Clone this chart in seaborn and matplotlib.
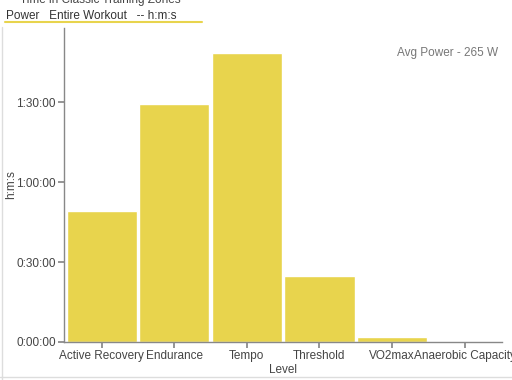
import matplotlib
matplotlib.use("Agg")
import matplotlib.pyplot as plt
import pandas as pd
import seaborn as sns
from matplotlib.ticker import FuncFormatter

levels = ["Active Recovery", "Endurance", "Tempo", "Threshold", "VO2max", "Anaerobic Capacity"]
seconds = [2950, 5355, 6500, 1485, 110, 5]
y_ticks = [0, 1800, 3600, 5400]

sns.set_theme(style="white")
plt.rcParams["font.family"] = ["Liberation Sans", "DejaVu Sans"]

df = pd.DataFrame({"Level": levels, "seconds": seconds})


def hms(v, _pos=None):
    v = int(round(v))
    return f"{v // 3600}:{(v % 3600) // 60:02d}:{v % 60:02d}"


fig = plt.figure(figsize=(5.12, 3.8), dpi=100)
ax = fig.add_axes([0.125, 0.1, 0.856, 0.826])

sns.barplot(data=df, x="Level", y="seconds", ax=ax, color="#E8D44D",
            saturation=1, width=0.97, edgecolor="white", linewidth=1)

ax.set_xlim(-0.52, 5.52)
ax.set_ylim(0, 7065)
ax.set_yticks(y_ticks)
ax.yaxis.set_major_formatter(FuncFormatter(hms))
ax.set_ylabel("h:m:s", fontsize=8.5, color="#444444", va="center", ha="center")
ax.yaxis.set_label_coords(-0.12, 0.5)
ax.set_xlabel("Level", fontsize=8.5, color="#444444", labelpad=1)
ax.tick_params(axis="both", labelsize=8.5, labelcolor="#444444", length=4,
               color="#888888", bottom=True, left=True, pad=2)
for side in ["top", "right"]:
    ax.spines[side].set_visible(False)
for side in ["left", "bottom"]:
    ax.spines[side].set_color("#888888")
    ax.spines[side].set_linewidth(1)

ax.text(0.99, 0.94, "Avg Power - 265 W", transform=ax.transAxes, ha="right",
        va="top", fontsize=8.5, color="#777777")

fig.text(0.04, 1.0, "Time in Classic Training Zones", fontsize=8.5,
         color="#444444", va="center")
fig.text(0.012, 0.958, "Power   Entire Workout   -- h:m:s", fontsize=8.5,
         color="#333333", va="center")
fig.add_artist(plt.Line2D([0.01, 0.395], [0.943, 0.943], color="#E8D44D",
                          linewidth=1.5, transform=fig.transFigure))
fig.add_artist(plt.Line2D([0.004, 0.004], [0.0, 0.93], color="#DDDDDD",
                          linewidth=1, transform=fig.transFigure))
fig.add_artist(plt.Line2D([0.0, 1.0], [0.008, 0.008], color="#DDDDDD",
                          linewidth=1, transform=fig.transFigure))

fig.savefig("out.png", dpi=100)
